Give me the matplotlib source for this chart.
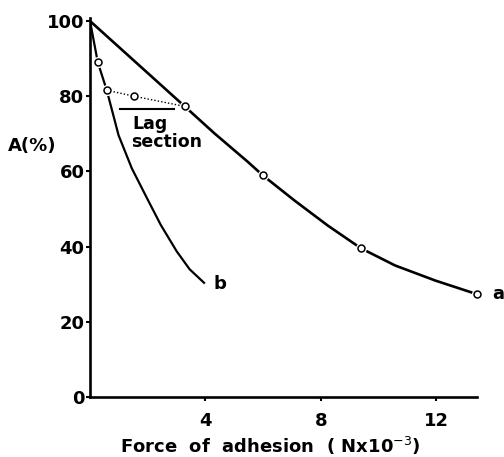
import matplotlib
matplotlib.use('Agg')
import matplotlib.pyplot as plt

a_pts_x = [3.28, 5.98, 9.38, 13.39]
a_pts_y = [77.3, 59.0, 39.6, 27.4]
a_line_x = [0.0, 3.28, 4.3, 5.46, 5.98, 7.08, 8.24, 9.38, 10.57, 11.96, 13.39]
a_line_y = [100.0, 77.3, 70.2, 62.6, 59.0, 52.3, 45.6, 39.6, 35.0, 31.0, 27.4]

# curve b
b_pts_x = [0.27, 0.58]
b_pts_y = [89.0, 81.6]
b_line_x = [0.0, 0.27, 0.58, 0.99, 1.45, 2.0, 2.45, 3.0, 3.45, 3.95]
b_line_y = [100.0, 89.0, 81.6, 69.6, 60.8, 52.5, 45.8, 38.8, 34.0, 30.4]

# lag section (dotted) joining b to a
lag_x = [0.58, 1.53, 3.28]
lag_y = [81.6, 80.0, 77.3]

plt.rcParams['font.family'] = 'DejaVu Sans'
fig = plt.figure(figsize=(5.04, 4.57), dpi=100)
ax = fig.add_axes([0.1786, 0.131, 0.7675, 0.8296])

ax.plot(a_line_x, a_line_y, color='black', lw=1.9, zorder=2)
ax.plot(b_line_x, b_line_y, color='black', lw=1.6, zorder=2)
ax.plot(lag_x, lag_y, color='black', lw=1.0, ls=(0, (1, 1.5)), zorder=2)

pts_x = a_pts_x + b_pts_x + [lag_x[1]]
pts_y = a_pts_y + b_pts_y + [lag_y[1]]
# white halo leaves a small gap between line and circle
ax.plot(pts_x, pts_y, 'o', ms=8, mfc='white', mec='none', zorder=3, clip_on=False)
ax.plot(pts_x, pts_y, 'o', ms=5, mfc='white', mec='black', mew=1.1, zorder=4, clip_on=False)

ax.text(4.29, 30.0, 'b', fontsize=13, fontweight='bold', va='center', clip_on=False)
ax.text(13.93, 27.4, 'a', fontsize=13, fontweight='bold', va='center', clip_on=False)
ax.plot([1.05, 2.9], [76.6, 76.6], color='black', lw=1.5)
ax.text(1.48, 72.6, 'Lag', fontsize=12.5, fontweight='bold', ha='left', va='center')
ax.text(1.43, 67.8, 'section', fontsize=12.5, fontweight='bold', ha='left', va='center')

ax.set_xlim(0, 13.4)
ax.set_ylim(0, 100.8)
ax.set_xticks([4, 8, 12])
ax.set_yticks([0, 20, 40, 60, 80, 100])
for s in ['top', 'right']:
    ax.spines[s].set_visible(False)
for s in ['left', 'bottom']:
    ax.spines[s].set_linewidth(1.9)
ax.tick_params(direction='out', length=3, width=1.5, labelsize=13)
ax.tick_params(axis='y', pad=1)
ax.tick_params(axis='x', pad=8)
for lab in ax.get_xticklabels() + ax.get_yticklabels():
    lab.set_fontweight('bold')

fig.text(0.016, 0.68, 'A(%)', fontsize=13, fontweight='bold', va='center')
ax.set_xlabel(r'Force  of  adhesion  ( Nx10$^{-3}$)', fontsize=13, fontweight='bold')
ax.xaxis.set_label_coords(0.465, -0.1)

fig.savefig('out.png', dpi=100)
